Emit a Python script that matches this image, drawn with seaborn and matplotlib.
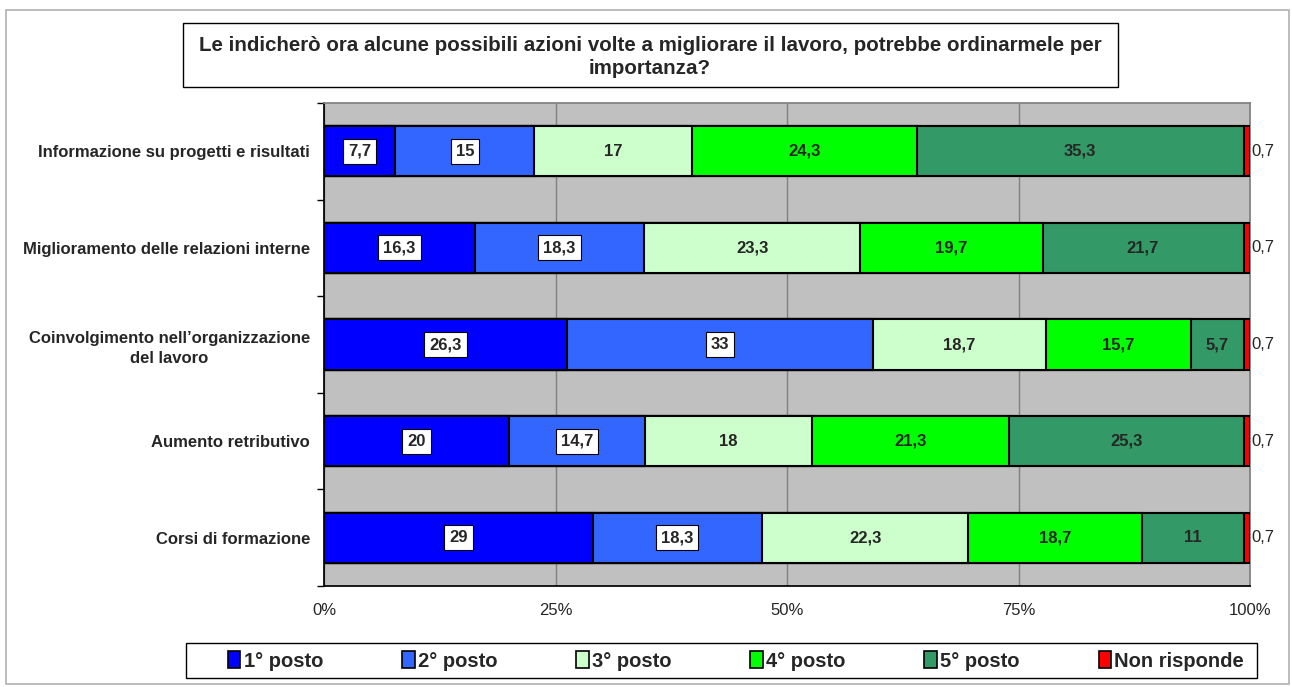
import matplotlib
matplotlib.use("Agg")
import matplotlib.pyplot as plt
import matplotlib.patches as mpatches
import numpy as np
import pandas as pd
import seaborn as sns

categories = [
    "Informazione su progetti e risultati",
    "Miglioramento delle relazioni interne",
    "Coinvolgimento nell\u2019organizzazione\ndel lavoro",
    "Aumento retributivo",
    "Corsi di formazione",
]
series = ["1° posto", "2° posto", "3° posto", "4° posto", "5° posto", "Non risponde"]
posto_1 = [7.7, 16.3, 26.3, 20, 29]
posto_2 = [15, 18.3, 33, 14.7, 18.3]
posto_3 = [17, 23.3, 18.7, 18, 22.3]
posto_4 = [24.3, 19.7, 15.7, 21.3, 18.7]
posto_5 = [35.3, 21.7, 5.7, 25.3, 11]
non_risponde = [0.7, 0.7, 0.7, 0.7, 0.7]
colors = ["#0000FF", "#3366FF", "#CCFFCC", "#00FF00", "#339966", "#FF0000"]

values = np.array([posto_1, posto_2, posto_3, posto_4, posto_5, non_risponde])
pct = values / values.sum(axis=0) * 100
cum = pct.cumsum(axis=0)

sns.set_theme(style="white")
plt.rcParams["font.family"] = ["Liberation Sans", "DejaVu Sans"]

W, H = 1292, 687
fig = plt.figure(figsize=(W / 100, H / 100), dpi=100)
ax = fig.add_axes([324 / W, 1 - 586 / H, 926 / W, 483 / H])
ax.set_facecolor("#C0C0C0")

# stacked bars: cumulative totals drawn from the last series backwards
for i in range(len(series) - 1, -1, -1):
    df = pd.DataFrame({"cat": categories, "val": cum[i]})
    sns.barplot(data=df, x="val", y="cat", color=colors[i], saturation=1,
                width=0.52, edgecolor="black", linewidth=1.5, ax=ax, zorder=3)

ax.set_xlim(0, 100)
ax.set_ylim(4.5, -0.5)
ax.set_xticks([0, 25, 50, 75, 100])
ax.set_xticklabels(["0%", "25%", "50%", "75%", "100%"], fontsize=12)
ax.xaxis.grid(True, color="#808080", linewidth=1, zorder=0)
ax.set_axisbelow(True)
ax.set_xlabel("")
ax.set_ylabel("")
for lab in ax.get_yticklabels():
    lab.set_fontweight("bold")
    lab.set_fontsize(12)
    lab.set_multialignment("center")
    lab.set_linespacing(1.45)
ax.tick_params(axis="y", which="major", length=0, pad=10)
ax.tick_params(axis="x", length=0, pad=12)
ax.set_yticks(np.arange(-0.5, 5, 1), minor=True)
ax.tick_params(axis="y", which="minor", length=5, width=1, color="black",
               direction="out", left=True)
for s in ["top", "right"]:
    ax.spines[s].set_color("#808080")
for s in ["left", "bottom"]:
    ax.spines[s].set_color("black")

for r in range(len(categories)):
    for i in range(len(series)):
        start = cum[i - 1][r] if i > 0 else 0
        txt = f"{values[i][r]:g}".replace(".", ",")
        if i == len(series) - 1:
            ax.text(100.15, r, txt, ha="left", va="center", fontsize=12, clip_on=False)
        elif i < 2:
            ax.text(start + pct[i][r] / 2, r, txt, ha="center", va="center",
                    fontsize=12, fontweight="bold", zorder=5,
                    bbox=dict(boxstyle="square,pad=0.3", fc="white", ec="black", lw=0.8))
        else:
            ax.text(start + pct[i][r] / 2, r, txt, ha="center", va="center",
                    fontsize=12, fontweight="bold", zorder=5)

# title box
fig.patches.append(mpatches.Rectangle((183 / W, 1 - 87 / H), 935 / W, 64 / H,
                                      transform=fig.transFigure, fill=False,
                                      ec="black", lw=1))
fig.text(650 / W, 1 - 57 / H,
         "Le indicherò ora alcune possibili azioni volte a migliorare il lavoro, potrebbe ordinarmele per\nimportanza?",
         ha="center", va="center", fontsize=14.8, fontweight="bold", linespacing=1.3)

# outer border
fig.patches.append(mpatches.Rectangle((6 / W, 3 / H), 1283 / W, 674 / H,
                                      transform=fig.transFigure, fill=False,
                                      ec="#B0B0B0", lw=1.2))

# legend box + entries
fig.patches.append(mpatches.Rectangle((186 / W, 1 - 678 / H), 1071 / W, 35 / H,
                                      transform=fig.transFigure, fill=False,
                                      ec="black", lw=1))
handles = [mpatches.Patch(facecolor=c, edgecolor="black", linewidth=1.2) for c in colors]
leg = fig.legend(handles, series, loc="center left", ncol=6,
                 bbox_to_anchor=(228 / W, 1 - 661 / H), frameon=False,
                 prop={"weight": "bold", "size": 14.5}, handlelength=0.62,
                 handleheight=0.88, handletextpad=0.15, columnspacing=3.93,
                 borderpad=0, borderaxespad=0)

fig.savefig("out.png", dpi=100, facecolor="white")
